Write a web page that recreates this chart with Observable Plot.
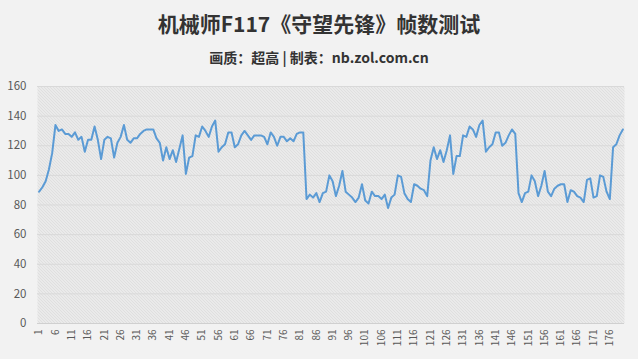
<!DOCTYPE html>
<html><head><meta charset="utf-8">
<script src="https://cdn.jsdelivr.net/npm/d3@7"></script>
<script src="https://cdn.jsdelivr.net/npm/@observablehq/plot@0.6"></script>
<style>
body{margin:0;background:#f2f2f2;width:638px;height:359px;overflow:hidden;position:relative;font-family:"Noto Sans CJK SC","Noto Sans",sans-serif;}
#title{position:absolute;left:0;width:638px;top:8px;text-align:center;font-size:21px;font-weight:bold;color:#333;line-height:30px;}
#sub{position:absolute;left:0;width:638px;top:47px;text-align:center;font-size:14px;font-weight:bold;color:#333;line-height:20px;}
#chart{position:absolute;left:0;top:70px;}
</style></head>
<body>
<div id="title">机械师F117《守望先锋》帧数测试</div>
<div id="sub">画质：超高 | 制表：nb.zol.com.cn</div>
<div id="chart"></div>
<script>
const frames = [
  89, 92, 96, 104, 115, 134, 130, 131, 128, 128,
  126, 129, 124, 126, 116, 124, 124, 133, 124, 111,
  124, 126, 125, 112, 122, 126, 134, 124, 122, 125,
  125, 128, 130, 131, 131, 131, 125, 122, 110, 119,
  111, 117, 109, 118, 127, 101, 112, 113, 127, 126,
  133, 130, 126, 133, 137, 116, 119, 121, 129, 129,
  119, 121, 127, 130, 127, 124, 127, 127, 127, 126,
  121, 129, 126, 120, 126, 126, 123, 125, 123, 128,
  129, 129, 84, 87, 85, 88, 82, 88, 89, 100,
  96, 86, 93, 103, 89, 87, 85, 82, 85, 94,
  83, 81, 89, 86, 86, 84, 87, 78, 85, 87,
  100, 99, 88, 84, 82, 94, 93, 91, 90, 86,
  110, 119, 111, 117, 109, 117, 127, 101, 113, 113,
  127, 126, 133, 131, 126, 134, 137, 116, 119, 121,
  129, 129, 120, 122, 127, 131, 128, 88, 82, 88,
  89, 100, 96, 86, 93, 103, 89, 86, 91, 93,
  94, 94, 82, 90, 89, 86, 85, 82, 97, 98,
  85, 86, 100, 99, 89, 84, 119, 121, 127, 131
];
const xTickLabels = [1,6,11,16,21,26,31,36,41,46,51,56,61,66,71,76,81,86,91,96,101,106,111,116,121,126,131,136,141,146,151,156,161,166,171,176];
const yTickLabels = [0,20,40,60,80,100,120,140,160];

const data = frames.map((v, i) => ({idx: i + 1, fps: v}));
const font = '"Noto Sans CJK SC","Noto Sans",sans-serif';

const chart = Plot.plot({
  width: 638, height: 289,
  marginTop: 16, marginBottom: 36, marginLeft: 37, marginRight: 14,
  style: {background: "transparent", fontFamily: font, color: "#595959"},
  x: {domain: [0.5, frames.length + 0.5], label: null},
  y: {domain: [0, 160], label: null},
  marks: [
    Plot.frame({fill: "url(#hatch)", stroke: null}),
    Plot.gridY(yTickLabels, {stroke: "#d9d9d9", strokeOpacity: 1}),
    Plot.ruleY([0], {stroke: "#d0d0d0"}),
    Plot.axisY(yTickLabels, {tickSize: 0, tickPadding: 11, fontSize: 11.5, fill: "#595959", label: null}),
    Plot.axisX(xTickLabels, {tickSize: 0, tickPadding: 6, tickRotate: -90, fontSize: 10, fill: "#595959", label: null, tickFormat: d => String(d)}),
    Plot.line(data, {x: "idx", y: "fps", stroke: "#5b9bd5", strokeWidth: 2, strokeLinejoin: "round"})
  ]
});

const svg = d3.select(chart);
const pat = svg.insert("defs", ":first-child").append("pattern")
  .attr("id", "hatch").attr("patternUnits", "userSpaceOnUse")
  .attr("width", 3).attr("height", 3);
pat.append("rect").attr("width", 3).attr("height", 3).attr("fill", "#f5f5f5");
pat.append("path").attr("d", "M0,0 L3,3 M-1,2 L1,4 M2,-1 L4,1")
  .attr("stroke", "#c4c4c4").attr("stroke-width", 0.9);

document.getElementById("chart").appendChild(chart);
</script>
</body></html>
